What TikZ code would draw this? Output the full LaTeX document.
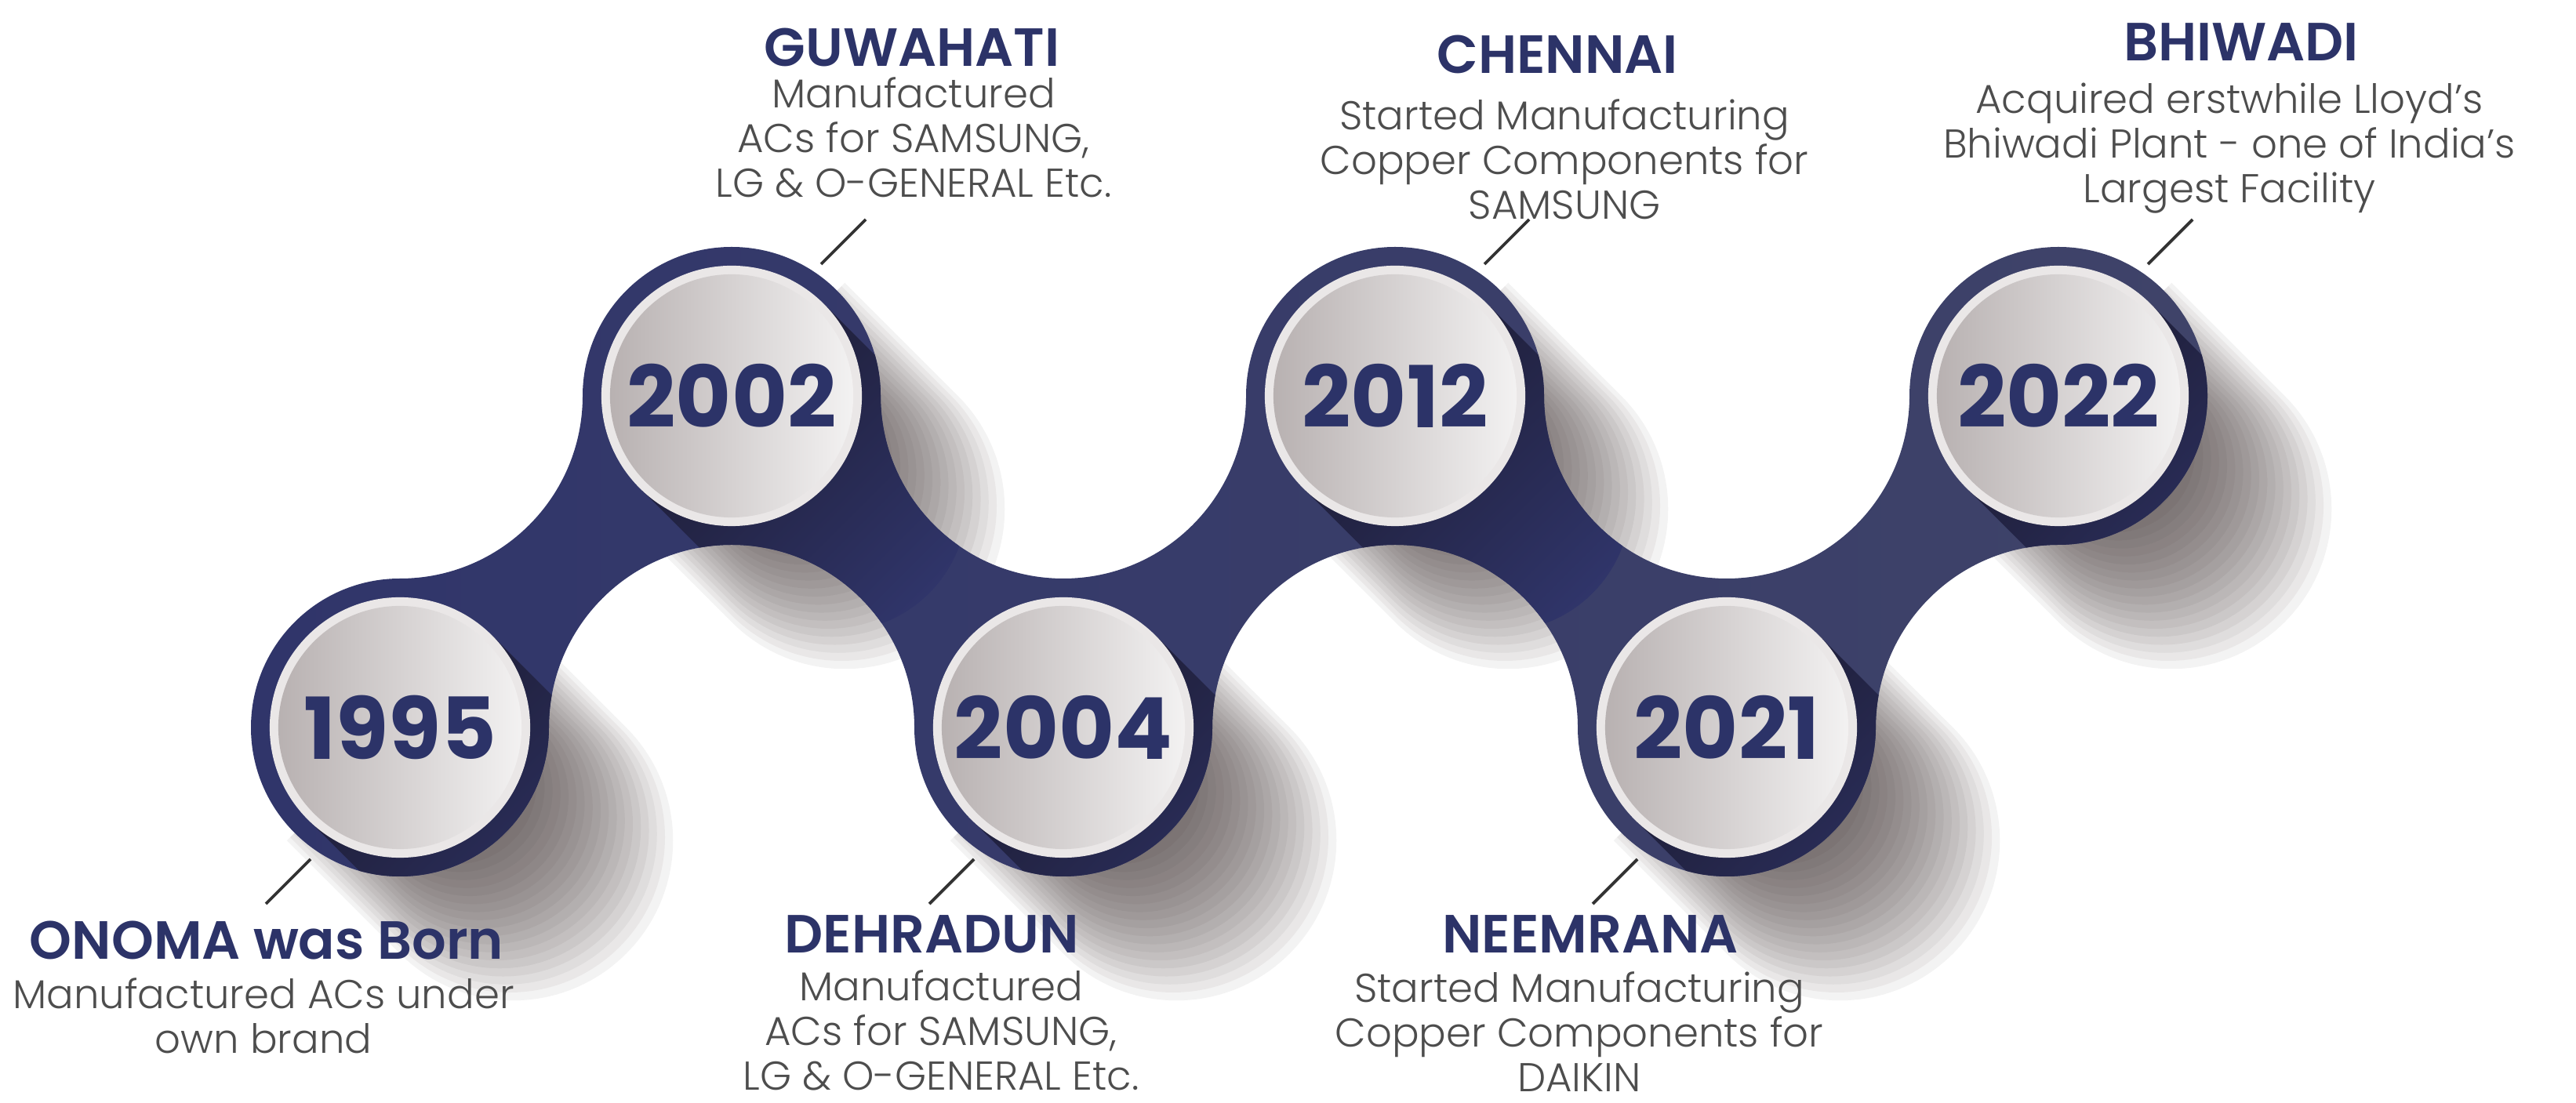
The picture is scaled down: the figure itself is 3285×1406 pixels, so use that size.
\documentclass[tikz,border=0pt]{standalone}
\usepackage{fontspec}
\setmainfont{Poppins}
\newfontfamily\yearfont{Poppins Bold}
\newfontfamily\cityfont{Poppins SemiBold}
\newfontfamily\descfont{Poppins Light}
\usetikzlibrary{calc}

\definecolor{ringnavy}{HTML}{30356A}
\definecolor{ringnavyR}{HTML}{3F4369}
\definecolor{ringdark}{HTML}{1C1B31}
\definecolor{bgshade}{HTML}{3A2E2E}
\definecolor{rimgrey}{HTML}{EAE7E7}
\definecolor{discL}{HTML}{B6AFAF}
\definecolor{discR}{HTML}{F5F4F4}
\definecolor{citynavy}{HTML}{2C3368}
\definecolor{descgrey}{HTML}{4D4D4D}
\definecolor{leadergrey}{HTML}{333333}

\tikzset{
  disc/.style={circle, minimum size=3.32cm, inner sep=0pt, fill=rimgrey, text=citynavy,
    font=\yearfont\fontsize{31}{31}\selectfont,
    path picture={\shade[left color=discL, right color=discR]
      (path picture bounding box.center) circle (1.55cm);}},
  city/.style={text=citynavy, font=\cityfont\fontsize{19.5}{20}\selectfont, inner sep=0pt},
  desc/.style={text=descgrey, font=\descfont\fontsize{14.6}{16.2}\selectfont, align=center, inner sep=0pt},
  leader/.style={draw=leadergrey, line width=1.1pt},
  bgshadow/.style={fill=bgshade, opacity=0.06},
  ringshadow/.style={top color=ringdark, bottom color=ringnavy, shading angle=45},
}

% 帯の形
\newcommand\bandpath{($(c1995)+(-190,0)$) arc[start angle=180,end angle=90,radius=190]
  arc[start angle=270,end angle=360,radius=233]
  arc[start angle=180,end angle=0,radius=190]
  arc[start angle=180,end angle=360,radius=233]
  arc[start angle=180,end angle=0,radius=190]
  arc[start angle=180,end angle=360,radius=233]
  arc[start angle=180,end angle=-90,radius=190]
  arc[start angle=90,end angle=180,radius=233]
  arc[start angle=0,end angle=-180,radius=190]
  arc[start angle=0,end angle=180,radius=233]
  arc[start angle=0,end angle=-180,radius=190]
  arc[start angle=0,end angle=180,radius=233]
  arc[start angle=0,end angle=-180,radius=190] -- cycle}

\begin{document}
\begin{tikzpicture}[x=0.01cm, y=0.01cm]
    \useasboundingbox (0,0) rectangle (3285,1406);

    \coordinate (c1995) at (510,478);
    \coordinate (c2002) at (933,901);
    \coordinate (c2004) at (1356,478);
    \coordinate (c2012) at (1779,901);
    \coordinate (c2021) at (2202,478);
    \coordinate (c2022) at (2625,901);

    % 背景の影
    \foreach \c in {c1995,c2002,c2004,c2012,c2021,c2022}
      \foreach \l [evaluate=\l as \rr using 190-0.15*\l] in {6,12,...,204}
        \fill[bgshadow] ($(\c)+(45:\rr)$) -- ++(-45:\l)
          arc[start angle=45,end angle=-135,radius=\rr] -- ($(\c)+(225:\rr)$) -- cycle;

    % 帯を塗る
    \shade[left color=ringnavy, right color=ringnavyR] \bandpath;
    \begin{scope}
      \clip \bandpath;
      \foreach \c in {c1995,c2002,c2004,c2012,c2021,c2022}
        \shade[ringshadow] ($(\c)+(45:166)$) -- ++(-45:190)
          arc[start angle=45,end angle=-135,radius=166] -- ($(\c)+(225:166)$) -- cycle;
    \end{scope}

    % 年の円
    \node[disc] (y1995) at (c1995) {1995};
    \node[disc] (y2002) at (c2002) {2002};
    \node[disc] (y2004) at (c2004) {2004};
    \node[disc] (y2012) at (c2012) {2012};
    \node[disc] (y2021) at (c2021) {2021};
    \node[disc] (y2022) at (c2022) {2022};

    % 説明を書く
    \node[city] (onoma) at (340,206) {ONOMA was Born};
    \node[desc] (onomad) at (336,110) {Manufactured ACs under\\own brand};
    \node[city] (guwahati) at (1163,1345) {GUWAHATI};
    \node[desc] (guwahatid) at (1165,1231) {Manufactured\\ACs for SAMSUNG,\\LG \& O-GENERAL Etc.};
    \node[city] (dehradun) at (1188,214) {DEHRADUN};
    \node[desc] (dehraduND) at (1200,92) {Manufactured\\ACs for SAMSUNG,\\LG \& O-GENERAL Etc.};
    \node[city] (chennai) at (1986,1337) {CHENNAI};
    \node[desc] (chennaid) at (1995,1203) {Started Manufacturing\\Copper Components for\\SAMSUNG};
    \node[city] (neemrana) at (2028,214) {NEEMRANA};
    \node[desc] (neemranad) at (2014,90) {Started Manufacturing\\Copper Components for\\DAIKIN};
    \node[city] (bhiwadi) at (2858,1352) {BHIWADI};
    \node[desc] (bhiwadid) at (2843,1217) {Acquired erstwhile Lloyd’s\\Bhiwadi Plant - one of India’s\\Largest Facility};

    % 線を引く
    \draw[leader] ($(c1995)+(-114,-168)$) -- ++(-57,-57);
    \draw[leader] ($(c2002)+(114,168)$) -- ++(57,57);
    \draw[leader] ($(c2004)+(-114,-168)$) -- ++(-57,-57);
    \draw[leader] ($(c2012)+(114,168)$) -- ++(57,57);
    \draw[leader] ($(c2021)+(-114,-168)$) -- ++(-57,-57);
    \draw[leader] ($(c2022)+(114,168)$) -- ++(57,57);
\end{tikzpicture}
\end{document}
